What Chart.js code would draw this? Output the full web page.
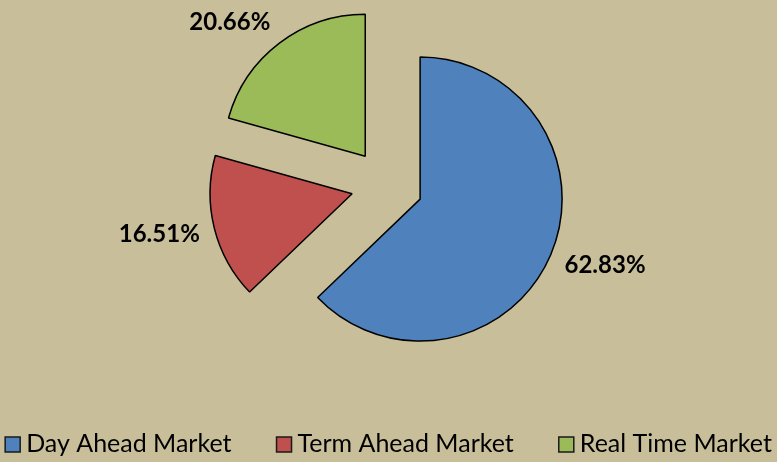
<!DOCTYPE html>
<html>
<head>
<meta charset="utf-8">
<script src="https://cdn.jsdelivr.net/npm/chart.js@4/dist/chart.umd.min.js"></script>
<style>
  html, body { margin: 0; padding: 0; background: #c8bf9a; }
  #wrap { width: 777px; height: 462px; }
</style>
</head>
<body>
<div id="wrap"><canvas id="marketChart"></canvas></div>
<script>
// Share of traded volume by market segment
const labels = ['Day Ahead Market', 'Term Ahead Market', 'Real Time Market'];
const shares = [62.83, 16.51, 20.66];
const colors = ['#4f81bd', '#c0504d', '#9bbb59'];

const EXPLODE = 36;

// push every slice out from the centre along its middle angle
const explodePlugin = {
  id: 'explode',
  afterUpdate(chart) {
    chart.getDatasetMeta(0).data.forEach(arc => {
      const mid = (arc.startAngle + arc.endAngle) / 2;
      arc.x += Math.cos(mid) * EXPLODE;
      arc.y += Math.sin(mid) * EXPLODE;
    });
  }
};

// percentage labels outside each slice + legend at the bottom
const labelPlugin = {
  id: 'sliceLabels',
  afterDraw(chart) {
    const ctx = chart.ctx;
    ctx.save();
    ctx.fillStyle = '#000';
    ctx.font = 'bold 24px Lato';
    ctx.textAlign = 'center';
    ctx.textBaseline = 'middle';
    chart.getDatasetMeta(0).data.forEach((arc, i) => {
      const mid = (arc.startAngle + arc.endAngle) / 2;
      const ux = Math.cos(mid), uy = Math.sin(mid);
      const txt = shares[i].toFixed(2) + '%';
      const w = ctx.measureText(txt).width, h = 22;
      const r = arc.outerRadius + 15;
      const x = arc.x + ux * r + Math.sign(ux) * w / 2;
      const y = arc.y + uy * r + uy * h / 2;
      ctx.fillText(txt, x, y);
    });

    // legend
    ctx.font = '25px Lato';
    ctx.textAlign = 'left';
    ctx.textBaseline = 'alphabetic';
    const box = 15, boxGap = 6, itemGap = 45;
    const widths = labels.map(l => box + boxGap + ctx.measureText(l).width);
    const total = widths.reduce((a, b) => a + b, 0) + itemGap * (labels.length - 1);
    let x = (chart.width - total) / 2;
    const top = 437;
    labels.forEach((l, i) => {
      ctx.fillStyle = colors[i];
      ctx.fillRect(x, top, box, box);
      ctx.lineWidth = 1.5;
      ctx.strokeStyle = '#1a1a1a';
      ctx.strokeRect(x, top, box, box);
      ctx.fillStyle = '#000';
      ctx.fillText(l, x + box + boxGap, 452);
      x += widths[i] + itemGap;
    });
    ctx.restore();
  }
};

new Chart(document.getElementById('marketChart'), {
  type: 'pie',
  data: {
    labels: labels,
    datasets: [{
      data: shares,
      backgroundColor: colors,
      borderColor: '#000',
      borderWidth: 1.5,
      radius: 142
    }]
  },
  options: {
    responsive: true,
    maintainAspectRatio: false,
    animation: false,
    layout: { padding: { left: 0, right: 3, top: 0, bottom: 92 } },
    plugins: {
      legend: { display: false },
      tooltip: { enabled: false }
    }
  },
  plugins: [explodePlugin, labelPlugin]
});
</script>
</body>
</html>
